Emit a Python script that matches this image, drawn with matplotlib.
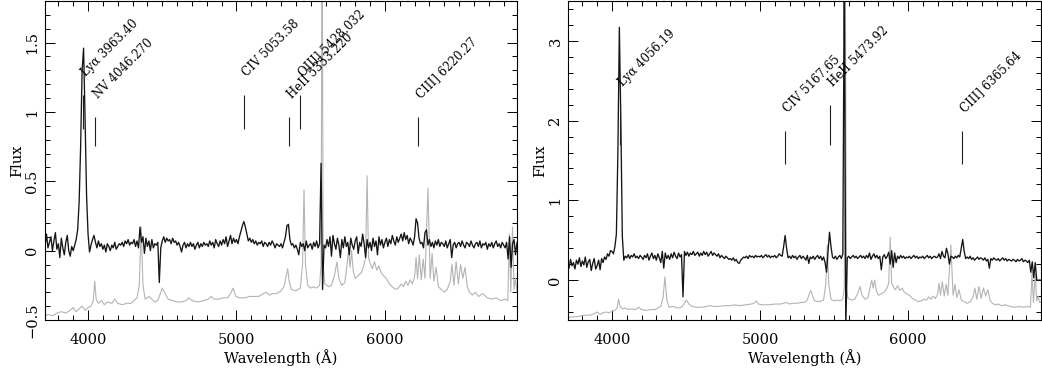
import numpy as np
import matplotlib
matplotlib.use('Agg')
import matplotlib.pyplot as plt
from matplotlib.ticker import MultipleLocator, FuncFormatter

plt.rcParams['font.family'] = ['DejaVu Serif']

# object spectra, sampled every 10 A from 3700 to 6900
wave = np.arange(3700, 6901, 10)

flux_a = [
    0.08, 0.03, 0.12, 0.02, 0.06, 0.10, 0.00, 0.07, 0.13, 0.01,   # 3700
    0.05, -0.05, 0.09, 0.02, -0.03, 0.06, 0.11, 0.00, -0.04, 0.03,  # 3800
    0.00, 0.04, 0.08, 0.15, 0.35, 0.75, 1.30, 1.46, 0.95, 0.40,   # 3900
    0.12, -0.01, 0.04, 0.08, 0.11, 0.06, 0.02, 0.07, 0.03, 0.05,  # 4000
    0.01, 0.04, -0.01, 0.05, 0.03, 0.00, 0.04, 0.02, 0.06, 0.01,  # 4100
    0.03, 0.05, 0.04, 0.06, 0.03, 0.07, 0.05, 0.08, 0.04, 0.06,   # 4200
    0.05, 0.08, 0.03, 0.07, 0.02, 0.17, 0.06, 0.10, -0.02, 0.09,  # 4300
    0.03, 0.07, 0.00, 0.08, 0.02, 0.05, 0.04, 0.06, -0.23, 0.02,  # 4400
    0.07, 0.10, 0.06, 0.09, 0.07, 0.08, 0.05, 0.09, 0.06, 0.07,   # 4500
    0.04, 0.06, 0.03, -0.01, 0.04, 0.06, 0.02, 0.05, 0.03, 0.06,  # 4600
    0.03, 0.05, 0.01, 0.04, 0.06, 0.02, 0.05, 0.03, 0.06, 0.04,   # 4700
    0.05, 0.03, 0.07, 0.04, 0.06, 0.02, 0.08, 0.05, 0.03, 0.07,   # 4800
    0.04, 0.08, 0.05, 0.10, 0.03, 0.07, 0.11, 0.05, 0.09, 0.06,   # 4900
    0.08, 0.05, 0.10, 0.14, 0.18, 0.21, 0.17, 0.12, 0.07, 0.09,   # 5000
    0.06, 0.08, 0.05, 0.07, 0.04, 0.06, 0.05, 0.07, 0.03, 0.06,   # 5100
    0.05, 0.03, 0.06, 0.04, 0.07, 0.05, 0.02, 0.05, 0.04, 0.03,   # 5200
    0.05, 0.02, 0.06, 0.10, 0.18, 0.19, 0.08, 0.04, 0.05, 0.02,   # 5300
    0.04, 0.01, -0.03, 0.06, 0.03, 0.05, 0.00, 0.07, 0.02, 0.04,  # 5400
    0.05, 0.01, 0.06, 0.03, 0.07, 0.02, 0.05, 0.63, -0.28, 0.04,  # 5500
    0.02, 0.08, 0.03, 0.10, -0.04, 0.11, 0.05, 0.01, 0.09, 0.04,  # 5600
    -0.05, 0.08, 0.02, 0.10, 0.03, 0.06, -0.03, 0.09, 0.04, 0.01,  # 5700
    0.07, 0.10, -0.02, 0.06, 0.03, 0.12, 0.05, -0.05, 0.08, 0.02,  # 5800
    0.06, 0.00, 0.09, 0.03, 0.07, -0.03, 0.10, 0.04, 0.08, 0.02,  # 5900
    0.06, 0.09, 0.03, 0.08, 0.05, 0.11, 0.07, 0.04, 0.10, 0.06,   # 6000
    0.09, 0.12, 0.07, 0.13, 0.08, 0.11, 0.05, 0.09, 0.07, 0.04,   # 6100
    0.10, 0.23, 0.20, 0.09, 0.05, 0.06, 0.02, 0.13, 0.15, 0.04,   # 6200
    0.08, 0.03, 0.06, 0.02, 0.07, 0.04, 0.08, 0.03, 0.06, 0.05,   # 6300
    0.03, 0.07, 0.02, 0.05, 0.08, -0.05, 0.04, 0.06, 0.02, 0.05,  # 6400
    0.06, 0.03, 0.07, 0.04, 0.02, 0.06, 0.05, 0.03, 0.07, 0.04,   # 6500
    0.02, 0.05, 0.06, 0.03, 0.07, 0.02, 0.05, 0.04, 0.06, 0.01,   # 6600
    0.05, 0.03, 0.06, 0.02, 0.05, 0.07, 0.03, 0.05, 0.02, 0.06,   # 6700
    0.04, 0.02, 0.06, -0.06, 0.10, -0.12, 0.05, 0.08, -0.03, 0.06,  # 6800
    0.04,
]

flux_b = [
    0.23, 0.15, 0.26, 0.18, 0.22, 0.14, 0.25, 0.20, 0.28, 0.17,   # 3700
    0.24, 0.19, 0.29, 0.16, 0.23, 0.26, 0.12, 0.21, 0.27, 0.14,   # 3800
    0.18, 0.25, 0.13, 0.27, 0.22, 0.29, 0.26, 0.33, 0.30, 0.37,   # 3900
    0.36, 0.33, 0.42, 0.58, 1.60, 3.17, 2.00, 0.55, 0.25, 0.30,   # 4000
    0.28, 0.32, 0.27, 0.31, 0.29, 0.33, 0.28, 0.30, 0.27, 0.31,   # 4100
    0.29, 0.26, 0.31, 0.28, 0.33, 0.25, 0.30, 0.34, 0.27, 0.31,   # 4200
    0.25, 0.33, 0.28, 0.22, 0.36, 0.15, 0.34, 0.27, 0.31, 0.26,   # 4300
    0.33, 0.28, 0.35, 0.30, 0.27, 0.34, 0.29, 0.32, -0.21, 0.36,  # 4400
    0.31, 0.35, 0.30, 0.34, 0.32, 0.36, 0.31, 0.33, 0.35, 0.30,   # 4500
    0.34, 0.31, 0.36, 0.32, 0.35, 0.30, 0.33, 0.36, 0.31, 0.34,   # 4600
    0.32, 0.30, 0.33, 0.28, 0.31, 0.29, 0.27, 0.30, 0.28, 0.26,   # 4700
    0.27, 0.25, 0.28, 0.24, 0.26, 0.22, 0.21, 0.25, 0.27, 0.29,   # 4800
    0.28, 0.30, 0.27, 0.31, 0.29, 0.30, 0.28, 0.31, 0.29, 0.30,   # 4900
    0.29, 0.31, 0.28, 0.30, 0.32, 0.29, 0.31, 0.28, 0.30, 0.29,   # 5000
    0.31, 0.28, 0.30, 0.33, 0.31, 0.30, 0.42, 0.56, 0.40, 0.28,   # 5100
    0.30, 0.27, 0.31, 0.28, 0.30, 0.26, 0.29, 0.31, 0.27, 0.30,   # 5200
    0.28, 0.25, 0.31, 0.21, 0.29, 0.27, 0.30, 0.26, 0.29, 0.31,   # 5300
    0.27, 0.30, 0.25, 0.29, 0.22, 0.10, 0.36, 0.60, 0.42, 0.29,   # 5400
    0.27, 0.30, 0.26, 0.29, 0.31, 0.27, 0.33, 4.00, -0.60, 0.28,  # 5500
    0.30, 0.27, 0.29, 0.31, 0.28, 0.30, 0.27, 0.29, 0.31, 0.28,   # 5600
    0.30, 0.27, 0.31, 0.28, 0.34, 0.26, 0.30, 0.33, 0.28, 0.31,   # 5700
    0.27, 0.30, 0.13, 0.29, 0.32, 0.27, 0.30, 0.35, 0.20, 0.37,   # 5800
    0.16, 0.34, 0.22, 0.30, 0.27, 0.31, 0.28, 0.30, 0.27, 0.29,   # 5900
    0.28, 0.30, 0.27, 0.29, 0.31, 0.28, 0.30, 0.27, 0.29, 0.28,   # 6000
    0.30, 0.27, 0.29, 0.31, 0.28, 0.30, 0.27, 0.29, 0.30, 0.28,   # 6100
    0.29, 0.33, 0.27, 0.36, 0.30, 0.28, 0.40, 0.33, 0.20, 0.30,   # 6200
    0.29, 0.27, 0.30, 0.28, 0.31, 0.29, 0.40, 0.51, 0.36, 0.27,   # 6300
    0.29, 0.27, 0.30, 0.26, 0.28, 0.25, 0.27, 0.29, 0.26, 0.28,   # 6400
    0.27, 0.25, 0.28, 0.24, 0.26, 0.15, 0.27, 0.25, 0.28, 0.26,   # 6500
    0.25, 0.27, 0.24, 0.26, 0.28, 0.25, 0.27, 0.24, 0.26, 0.25,   # 6600
    0.24, 0.26, 0.25, 0.23, 0.26, 0.24, 0.25, 0.27, 0.23, 0.25,   # 6700
    0.24, 0.22, 0.25, 0.10, 0.23, 0.03, 0.22, 0.00, 0.00, 0.00,   # 6800
    0.00,
]

# sky spectra (plotted offset), (wavelength, flux) vertices
sky_a = [
    (3700, -0.48), (3730, -0.46), (3760, -0.47), (3790, -0.45), (3820, -0.44),
    (3850, -0.45), (3880, -0.43), (3900, -0.41), (3920, -0.44), (3940, -0.42),
    (3960, -0.40), (3980, -0.43), (4000, -0.41), (4020, -0.40), (4035, -0.36),
    (4045, -0.22), (4055, -0.35), (4070, -0.38), (4090, -0.36), (4110, -0.39),
    (4130, -0.37), (4160, -0.38), (4180, -0.35), (4200, -0.38), (4230, -0.39),
    (4260, -0.38), (4290, -0.38), (4310, -0.36), (4330, -0.34), (4345, -0.25),
    (4358, 0.17), (4370, -0.25), (4385, -0.35), (4410, -0.33), (4430, -0.35),
    (4450, -0.37), (4470, -0.36), (4490, -0.30), (4500, -0.27), (4520, -0.31),
    (4540, -0.35), (4570, -0.36), (4600, -0.37), (4630, -0.37), (4660, -0.36),
    (4680, -0.34), (4700, -0.36), (4740, -0.37), (4780, -0.36), (4810, -0.35),
    (4830, -0.33), (4850, -0.35), (4880, -0.35), (4910, -0.34), (4940, -0.34),
    (4960, -0.31), (4978, -0.27), (4995, -0.33), (5020, -0.34), (5060, -0.34),
    (5090, -0.33), (5120, -0.33), (5150, -0.33), (5180, -0.31), (5200, -0.30),
    (5220, -0.32), (5240, -0.31), (5270, -0.31), (5300, -0.29), (5320, -0.26),
    (5335, -0.18), (5345, -0.13), (5355, -0.22), (5370, -0.28), (5400, -0.29),
    (5430, -0.27), (5445, -0.10), (5455, 0.44), (5465, -0.10), (5480, -0.25),
    (5500, -0.27), (5520, -0.26), (5540, -0.27), (5560, -0.25), (5570, -0.10),
    (5577, 2.50), (5584, -0.10), (5595, -0.24), (5620, -0.26), (5640, -0.25),
    (5660, -0.18), (5677, -0.08), (5690, -0.20), (5710, -0.25), (5730, -0.23),
    (5745, -0.10), (5755, 0.00), (5765, -0.12), (5775, 0.00), (5787, -0.15),
    (5800, -0.20), (5820, -0.18), (5840, -0.16), (5855, -0.12), (5870, -0.05),
    (5880, 0.54), (5890, -0.05), (5900, -0.09), (5915, -0.13), (5930, -0.08),
    (5945, -0.14), (5960, -0.11), (5975, -0.16), (5990, -0.18), (6010, -0.20),
    (6030, -0.24), (6050, -0.26), (6070, -0.28), (6090, -0.27), (6110, -0.24),
    (6125, -0.26), (6140, -0.22), (6155, -0.25), (6170, -0.21), (6185, -0.24),
    (6200, -0.19), (6210, -0.05), (6220, -0.20), (6232, -0.03), (6245, -0.21),
    (6258, -0.06), (6270, -0.20), (6290, 0.45), (6305, -0.20), (6318, -0.02),
    (6330, -0.22), (6345, -0.12), (6360, -0.26), (6380, -0.28), (6400, -0.30),
    (6420, -0.28), (6440, -0.22), (6452, -0.10), (6465, -0.25), (6480, -0.08),
    (6495, -0.24), (6510, -0.10), (6525, -0.20), (6540, -0.12), (6555, -0.26),
    (6570, -0.30), (6590, -0.32), (6610, -0.30), (6630, -0.33), (6660, -0.31),
    (6690, -0.34), (6720, -0.35), (6750, -0.34), (6780, -0.36), (6810, -0.35),
    (6828, -0.36), (6838, 0.12), (6848, -0.30), (6860, 0.17), (6870, -0.28),
    (6880, -0.20), (6890, -0.30), (6900, -0.28),
]

sky_b = [
    (3700, -0.47), (3730, -0.46), (3760, -0.46), (3790, -0.45), (3820, -0.44),
    (3850, -0.44), (3880, -0.42), (3900, -0.40), (3920, -0.43), (3940, -0.41),
    (3960, -0.40), (3980, -0.41), (4000, -0.39), (4020, -0.38), (4035, -0.35),
    (4045, -0.24), (4055, -0.33), (4070, -0.36), (4090, -0.35), (4110, -0.37),
    (4130, -0.36), (4160, -0.37), (4180, -0.34), (4200, -0.37), (4230, -0.38),
    (4260, -0.37), (4290, -0.37), (4310, -0.35), (4330, -0.33), (4345, -0.22),
    (4358, 0.04), (4370, -0.24), (4385, -0.34), (4410, -0.33), (4430, -0.34),
    (4450, -0.35), (4470, -0.34), (4490, -0.29), (4503, -0.25), (4520, -0.30),
    (4540, -0.33), (4570, -0.34), (4600, -0.34), (4640, -0.33), (4660, -0.32),
    (4690, -0.33), (4720, -0.33), (4760, -0.32), (4800, -0.32), (4830, -0.31),
    (4860, -0.32), (4900, -0.31), (4940, -0.30), (4960, -0.29), (4975, -0.26),
    (4990, -0.30), (5020, -0.31), (5060, -0.31), (5100, -0.30), (5140, -0.30),
    (5180, -0.28), (5200, -0.30), (5220, -0.29), (5250, -0.29), (5280, -0.28),
    (5300, -0.28), (5320, -0.25), (5335, -0.16), (5345, -0.13), (5355, -0.20),
    (5370, -0.26), (5400, -0.27), (5430, -0.25), (5445, -0.05), (5455, 0.44),
    (5465, -0.05), (5480, -0.24), (5500, -0.26), (5520, -0.25), (5540, -0.26),
    (5560, -0.24), (5570, -0.10), (5577, 3.80), (5584, -0.10), (5595, -0.23),
    (5620, -0.25), (5640, -0.24), (5660, -0.17), (5677, -0.08), (5690, -0.19),
    (5710, -0.24), (5730, -0.22), (5745, -0.08), (5755, 0.00), (5765, -0.10),
    (5775, 0.00), (5787, -0.14), (5800, -0.19), (5820, -0.17), (5840, -0.15),
    (5855, -0.11), (5870, -0.04), (5880, 0.54), (5890, -0.04), (5900, -0.08),
    (5915, -0.12), (5930, -0.07), (5945, -0.13), (5960, -0.10), (5975, -0.15),
    (5990, -0.17), (6010, -0.19), (6030, -0.23), (6050, -0.25), (6070, -0.27),
    (6090, -0.26), (6110, -0.24), (6125, -0.25), (6140, -0.21), (6155, -0.24),
    (6170, -0.20), (6185, -0.23), (6200, -0.18), (6210, -0.04), (6220, -0.19),
    (6232, -0.02), (6245, -0.20), (6258, -0.05), (6270, -0.19), (6290, 0.44),
    (6305, -0.19), (6318, -0.05), (6330, -0.22), (6345, -0.12), (6360, -0.25),
    (6380, -0.27), (6400, -0.29), (6420, -0.27), (6440, -0.21), (6452, -0.10),
    (6465, -0.24), (6480, -0.08), (6495, -0.23), (6510, -0.10), (6525, -0.20),
    (6540, -0.12), (6555, -0.25), (6570, -0.29), (6590, -0.31), (6610, -0.30),
    (6630, -0.32), (6660, -0.31), (6690, -0.33), (6720, -0.34), (6750, -0.33),
    (6780, -0.34), (6810, -0.33), (6828, -0.34), (6838, 0.10), (6848, -0.28),
    (6860, 0.08), (6870, -0.26), (6880, -0.20), (6890, -0.28), (6900, -0.27),
]

# line identifications
lines_a = ['Lyα 3963.40', 'NV 4046.270', 'CIV 5053.58', 'HeII 5353.220',
           'OIII] 5428.032', 'CIII] 6220.27']
lines_a_wave = [3963.40, 4046.270, 5053.58, 5353.220, 5428.032, 6220.27]
lines_b = ['Lyα 4056.19', 'CIV 5167.65', 'HeII 5473.92', 'CIII] 6365.64']
lines_b_wave = [4056.19, 5167.65, 5473.92, 6365.64]


def fmt(v, pos):
    return ('%g' % v).replace('-', '\u2212')


def panel(ax, flux, sky, names, lw_, xlim, ylim, ymaj, ymin, hi, lo):
    sw, sf = np.array(sky).T
    ax.plot(sw, sf, color='#b4b4b4', lw=0.8)
    ax.plot(wave, flux, color='#151515', lw=0.95)
    for i, (name, w) in enumerate(zip(names, lw_)):
        seg = hi if i % 2 == 0 else lo
        ax.vlines(w, seg[0], seg[1], color='#202020', lw=0.8)
        ax.annotate(name, (w, seg[1]), xytext=(2, 13), textcoords='offset points',
                    rotation=45, rotation_mode='anchor', ha='left', va='baseline',
                    fontsize=8.5)
    ax.set_xlim(xlim)
    ax.set_ylim(ylim)
    ax.xaxis.set_major_locator(MultipleLocator(1000))
    ax.xaxis.set_minor_locator(MultipleLocator(100))
    ax.yaxis.set_major_locator(MultipleLocator(ymaj))
    ax.yaxis.set_minor_locator(MultipleLocator(ymin))
    ax.yaxis.set_major_formatter(FuncFormatter(fmt))
    ax.tick_params(which='both', direction='in', top=True, right=True,
                   labelsize=10.5, width=0.7)
    ax.tick_params(which='major', length=7)
    ax.tick_params(which='minor', length=3.5)
    ax.tick_params(axis='x', pad=9)
    ax.tick_params(axis='y', pad=4)
    plt.setp(ax.get_yticklabels(), rotation=90, va='center')
    for s in ax.spines.values():
        s.set_linewidth(0.8)
    ax.set_xlabel('Wavelength (Å)', fontsize=10.5, labelpad=2)
    ax.set_ylabel('Flux', fontsize=10.5, labelpad=1)


fig = plt.figure(figsize=(10.42, 3.75), dpi=100)
ax1 = fig.add_axes([45 / 1042, 55 / 375, 472 / 1042, 319 / 375])
ax2 = fig.add_axes([568 / 1042, 55 / 375, 473 / 1042, 319 / 375])

panel(ax1, flux_a, sky_a, lines_a, lines_a_wave, (3710, 6890), (-0.5, 1.8),
      0.5, 0.1, (0.88, 1.124), (0.751, 0.966))
panel(ax2, flux_b, sky_b, lines_b, lines_b_wave, (3703, 6899), (-0.5, 3.5),
      1, 0.2, (1.7, 2.2), (1.46, 1.875))

fig.savefig('out.png', dpi=100)
